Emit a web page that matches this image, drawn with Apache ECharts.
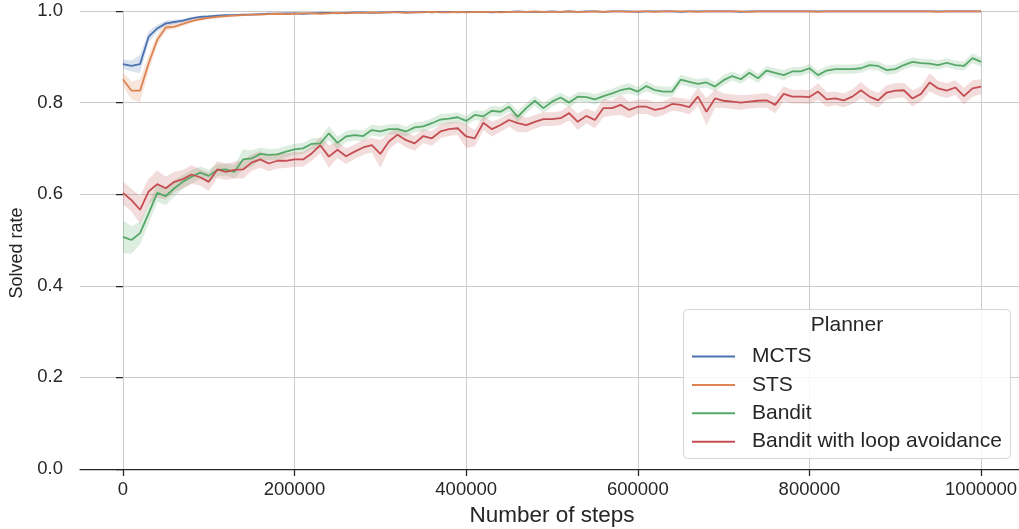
<!DOCTYPE html>
<html>
<head>
<meta charset="utf-8">
<script src="https://cdn.jsdelivr.net/npm/echarts@6/dist/echarts.min.js"></script>
<style>
  html, body { margin: 0; padding: 0; background: #fff; }
  #chart { width: 1019px; height: 529px; }
</style>
</head>
<body>
<div id="chart"></div>
<script>
// steps where each planner was evaluated
const steps = [
  0, 10000, 20000, 30000, 40000, 50000, 60000, 70000, 80000, 90000,
  100000, 110000, 120000, 130000, 140000, 150000, 160000, 170000, 180000, 190000,
  200000, 210000, 220000, 230000, 240000, 250000, 260000, 270000, 280000, 290000,
  300000, 310000, 320000, 330000, 340000, 350000, 360000, 370000, 380000, 390000,
  400000, 410000, 420000, 430000, 440000, 450000, 460000, 470000, 480000, 490000,
  500000, 510000, 520000, 530000, 540000, 550000, 560000, 570000, 580000, 590000,
  600000, 610000, 620000, 630000, 640000, 650000, 660000, 670000, 680000, 690000,
  700000, 710000, 720000, 730000, 740000, 750000, 760000, 770000, 780000, 790000,
  800000, 810000, 820000, 830000, 840000, 850000, 860000, 870000, 880000, 890000,
  900000, 910000, 920000, 930000, 940000, 950000, 960000, 970000, 980000, 990000,
  1000000
];

const planners = ['MCTS', 'STS', 'Bandit', 'Bandit with loop avoidance'];
const xTicks = [0, 200000, 400000, 600000, 800000, 1000000];

// mean solved rate
const mcts = [
  0.884, 0.880, 0.884, 0.944, 0.962, 0.973, 0.976, 0.979, 0.984, 0.987,
  0.988, 0.990, 0.991, 0.991, 0.992, 0.992, 0.993, 0.994, 0.994, 0.995,
  0.995, 0.994, 0.995, 0.996, 0.996, 0.995, 0.996, 0.997, 0.997, 0.996,
  0.997, 0.997, 0.998, 0.997, 0.997, 0.998, 0.997, 0.998, 0.998, 0.997,
  0.998, 0.998, 0.998, 0.997, 0.998, 0.998, 0.999, 0.998, 0.998, 0.998,
  0.999, 0.998, 0.999, 0.998, 0.999, 0.999, 0.998, 0.999, 0.999, 0.999,
  0.998, 0.999, 0.999, 0.999, 0.999, 0.998, 0.999, 0.999, 0.999, 0.999,
  0.999, 0.999, 0.998, 0.999, 0.999, 0.999, 0.999, 0.999, 0.999, 0.999,
  0.999, 0.999, 0.999, 0.999, 0.999, 0.999, 0.999, 0.999, 0.999, 0.999,
  0.999, 0.999, 0.999, 0.999, 0.999, 0.999, 0.999, 0.999, 0.999, 0.999,
  0.999
];
const sts = [
  0.851, 0.826, 0.826, 0.886, 0.937, 0.964, 0.966, 0.972, 0.978, 0.982,
  0.985, 0.987, 0.989, 0.990, 0.991, 0.992, 0.992, 0.993, 0.994, 0.993,
  0.994, 0.995, 0.995, 0.994, 0.995, 0.996, 0.995, 0.996, 0.996, 0.997,
  0.996, 0.997, 0.997, 0.996, 0.997, 0.997, 0.998, 0.997, 0.997, 0.998,
  0.997, 0.998, 0.998, 0.998, 0.997, 0.998, 0.998, 0.998, 0.999, 0.998,
  0.998, 0.998, 0.999, 0.998, 0.998, 0.999, 0.998, 0.999, 0.999, 0.998,
  0.999, 0.999, 0.998, 0.999, 0.999, 0.999, 0.999, 0.998, 0.999, 0.999,
  0.999, 0.999, 0.999, 0.998, 0.999, 0.999, 0.999, 0.999, 0.999, 0.999,
  0.999, 0.998, 0.999, 0.999, 0.999, 0.999, 0.999, 0.999, 0.999, 0.999,
  0.999, 0.999, 0.999, 0.999, 0.999, 0.998, 0.999, 0.999, 0.999, 0.999,
  0.999
];
const bandit = [
  0.507, 0.500, 0.515, 0.558, 0.603, 0.596, 0.613, 0.627, 0.638, 0.647,
  0.640, 0.653, 0.654, 0.649, 0.676, 0.678, 0.688, 0.686, 0.687, 0.693,
  0.698, 0.700, 0.710, 0.711, 0.733, 0.712, 0.726, 0.729, 0.727, 0.740,
  0.737, 0.742, 0.742, 0.737, 0.746, 0.748, 0.755, 0.763, 0.765, 0.768,
  0.760, 0.773, 0.770, 0.782, 0.780, 0.791, 0.769, 0.788, 0.804, 0.788,
  0.802, 0.811, 0.800, 0.813, 0.812, 0.807, 0.814, 0.820, 0.827, 0.831,
  0.824, 0.836, 0.827, 0.824, 0.824, 0.850, 0.845, 0.841, 0.844, 0.835,
  0.849, 0.858, 0.851, 0.865, 0.853, 0.870, 0.865, 0.860, 0.868, 0.868,
  0.875, 0.860, 0.870, 0.873, 0.873, 0.873, 0.875, 0.882, 0.880, 0.871,
  0.873, 0.882, 0.889, 0.886, 0.885, 0.882, 0.887, 0.882, 0.880, 0.897,
  0.889
];
const banditLoop = [
  0.603, 0.587, 0.566, 0.606, 0.622, 0.613, 0.627, 0.633, 0.643, 0.637,
  0.627, 0.654, 0.649, 0.653, 0.654, 0.669, 0.676, 0.667, 0.673, 0.673,
  0.676, 0.676, 0.689, 0.707, 0.682, 0.697, 0.683, 0.693, 0.702, 0.707,
  0.688, 0.715, 0.730, 0.718, 0.711, 0.727, 0.722, 0.737, 0.742, 0.744,
  0.726, 0.722, 0.756, 0.742, 0.751, 0.762, 0.755, 0.751, 0.758, 0.764,
  0.764, 0.766, 0.777, 0.758, 0.771, 0.762, 0.788, 0.788, 0.795, 0.784,
  0.791, 0.791, 0.784, 0.788, 0.797, 0.795, 0.790, 0.813, 0.780, 0.809,
  0.804, 0.802, 0.800, 0.802, 0.804, 0.805, 0.795, 0.819, 0.813, 0.813,
  0.812, 0.824, 0.807, 0.809, 0.805, 0.813, 0.827, 0.813, 0.805, 0.822,
  0.826, 0.827, 0.809, 0.819, 0.844, 0.831, 0.826, 0.833, 0.814, 0.831,
  0.835
];

// half width of the confidence band
const mctsCi = [
  0.010, 0.012, 0.020, 0.012, 0.008, 0.006, 0.005, 0.004, 0.003, 0.003,
  0.003, 0.002, 0.002, 0.002, 0.002, 0.002, 0.002, 0.002, 0.002, 0.002,
  0.001, 0.001, 0.001, 0.001, 0.001, 0.001, 0.001, 0.001, 0.001, 0.001,
  0.001, 0.001, 0.001, 0.001, 0.001, 0.001, 0.001, 0.001, 0.001, 0.001,
  0.001, 0.001, 0.001, 0.001, 0.001, 0.001, 0.001, 0.001, 0.001, 0.001,
  0.001, 0.001, 0.001, 0.001, 0.001, 0.001, 0.001, 0.001, 0.001, 0.001,
  0.001, 0.001, 0.001, 0.001, 0.001, 0.001, 0.001, 0.001, 0.001, 0.001,
  0.001, 0.001, 0.001, 0.001, 0.001, 0.001, 0.001, 0.001, 0.001, 0.001,
  0.001, 0.001, 0.001, 0.001, 0.001, 0.001, 0.001, 0.001, 0.001, 0.001,
  0.001, 0.001, 0.001, 0.001, 0.001, 0.001, 0.001, 0.001, 0.001, 0.001,
  0.001
];
const stsCi = [
  0.015, 0.020, 0.025, 0.018, 0.012, 0.008, 0.006, 0.005, 0.004, 0.004,
  0.003, 0.003, 0.003, 0.002, 0.002, 0.002, 0.002, 0.002, 0.002, 0.002,
  0.001, 0.001, 0.001, 0.001, 0.001, 0.001, 0.001, 0.001, 0.001, 0.001,
  0.001, 0.001, 0.001, 0.001, 0.001, 0.001, 0.001, 0.001, 0.001, 0.001,
  0.001, 0.001, 0.001, 0.001, 0.001, 0.001, 0.001, 0.001, 0.001, 0.001,
  0.001, 0.001, 0.001, 0.001, 0.001, 0.001, 0.001, 0.001, 0.001, 0.001,
  0.001, 0.001, 0.001, 0.001, 0.001, 0.001, 0.001, 0.001, 0.001, 0.001,
  0.001, 0.001, 0.001, 0.001, 0.001, 0.001, 0.001, 0.001, 0.001, 0.001,
  0.001, 0.001, 0.001, 0.001, 0.001, 0.001, 0.001, 0.001, 0.001, 0.001,
  0.001, 0.001, 0.001, 0.001, 0.001, 0.001, 0.001, 0.001, 0.001, 0.001,
  0.001
];
const banditCi = [
  0.036, 0.030, 0.025, 0.022, 0.020, 0.020, 0.018, 0.015, 0.015, 0.014,
  0.014, 0.013, 0.013, 0.015, 0.022, 0.018, 0.014, 0.012, 0.013, 0.012,
  0.012, 0.012, 0.012, 0.012, 0.016, 0.014, 0.012, 0.012, 0.012, 0.012,
  0.012, 0.011, 0.012, 0.011, 0.011, 0.011, 0.011, 0.012, 0.011, 0.011,
  0.011, 0.011, 0.011, 0.011, 0.011, 0.011, 0.013, 0.011, 0.011, 0.011,
  0.011, 0.011, 0.011, 0.010, 0.011, 0.011, 0.011, 0.010, 0.011, 0.011,
  0.010, 0.011, 0.010, 0.011, 0.011, 0.011, 0.011, 0.010, 0.011, 0.010,
  0.011, 0.010, 0.010, 0.011, 0.010, 0.010, 0.010, 0.011, 0.010, 0.010,
  0.010, 0.010, 0.010, 0.010, 0.010, 0.010, 0.010, 0.010, 0.010, 0.010,
  0.010, 0.010, 0.010, 0.010, 0.011, 0.010, 0.010, 0.010, 0.010, 0.011,
  0.010
];
const banditLoopCi = [
  0.025, 0.025, 0.030, 0.028, 0.030, 0.025, 0.022, 0.020, 0.020, 0.018,
  0.020, 0.018, 0.018, 0.018, 0.020, 0.018, 0.018, 0.017, 0.017, 0.016,
  0.016, 0.016, 0.016, 0.018, 0.025, 0.018, 0.017, 0.016, 0.016, 0.016,
  0.030, 0.018, 0.016, 0.016, 0.016, 0.015, 0.016, 0.015, 0.015, 0.015,
  0.025, 0.018, 0.016, 0.016, 0.015, 0.015, 0.020, 0.016, 0.015, 0.015,
  0.015, 0.015, 0.016, 0.018, 0.016, 0.018, 0.020, 0.016, 0.022, 0.018,
  0.016, 0.016, 0.016, 0.015, 0.015, 0.015, 0.016, 0.020, 0.030, 0.020,
  0.016, 0.016, 0.016, 0.015, 0.015, 0.016, 0.018, 0.016, 0.015, 0.015,
  0.015, 0.018, 0.016, 0.015, 0.015, 0.016, 0.018, 0.016, 0.016, 0.016,
  0.016, 0.016, 0.018, 0.016, 0.020, 0.016, 0.016, 0.016, 0.018, 0.018,
  0.016
];

const colors = ['#4c72b0', '#dd8452', '#55a868', '#c44e52'];
const bands = ['rgba(76,114,176,0.2)', 'rgba(221,132,82,0.2)', 'rgba(85,168,104,0.2)', 'rgba(196,78,82,0.2)'];
const means = [mcts, sts, bandit, banditLoop];
const cis = [mctsCi, stsCi, banditCi, banditLoopCi];

const FONT = 'Liberation Sans, Arial, sans-serif';
const TXT = '#262626';

// confidence band as one polygon (mean +/- ci), then the mean line on top
function plannerSeries(idx) {
  const m = means[idx], ci = cis[idx];
  const rows = steps.map((s, i) => [s, m[i] - ci[i], m[i] + ci[i]]);
  const line = steps.map((s, i) => [s, m[i]]);
  return [
    {
      name: planners[idx] + ' ci', type: 'custom', data: rows, clip: true, silent: true,
      encode: { x: 0, y: [1, 2] },
      renderItem: function (params, api) {
        if (params.dataIndex !== 0) return null;
        const up = rows.map(r => api.coord([r[0], r[2]]));
        const lo = rows.map(r => api.coord([r[0], r[1]])).reverse();
        return {
          type: 'polygon',
          shape: { points: up.concat(lo) },
          style: { fill: bands[idx] }
        };
      }
    },
    {
      name: planners[idx], type: 'line', data: line,
      symbol: 'none', lineStyle: { color: colors[idx], width: 1.8 },
      itemStyle: { color: colors[idx] }
    }
  ];
}

let series = [];
for (let k = 0; k < planners.length; k++) {
  series = series.concat(plannerSeries(k));
}

const chart = echarts.init(document.getElementById('chart'));
chart.setOption({
  animation: false,
  backgroundColor: '#fff',
  grid: { left: 80, top: 11, right: -5, bottom: 60, outerBoundsMode: 'none' },
  xAxis: {
    type: 'value',
    min: -50000,
    max: 1050000,
    name: 'Number of steps',
    nameLocation: 'middle',
    nameGap: 35,
    nameTextStyle: { fontFamily: FONT, fontSize: 22.5, color: TXT },
    axisLine: { show: true, onZero: false, lineStyle: { color: TXT, width: 1.25 } },
    axisTick: { show: true, length: 7, customValues: xTicks, lineStyle: { color: TXT, width: 1.25 } },
    axisLabel: {
      customValues: xTicks, margin: 11, fontFamily: FONT, fontSize: 18.5, color: TXT,
      formatter: v => String(v)
    },
    splitLine: { show: true, lineStyle: { color: '#cccccc', width: 1 } }
  },
  yAxis: {
    type: 'value',
    min: 0,
    max: 1,
    interval: 0.2,
    name: 'Solved rate',
    nameLocation: 'middle',
    nameGap: 54,
    nameTextStyle: { fontFamily: FONT, fontSize: 18, color: TXT, padding: [0, 26, 0, 0] },
    axisLine: { show: false },
    axisTick: { show: true, length: 7, lineStyle: { color: TXT, width: 1.25 } },
    axisLabel: {
      margin: 17, fontFamily: FONT, fontSize: 18.5, color: TXT,
      formatter: v => v.toFixed(1)
    },
    splitLine: { show: true, lineStyle: { color: '#cccccc', width: 1 } }
  },
  legend: {
    data: planners,
    orient: 'vertical',
    left: 692,
    top: 346,
    padding: 0,
    icon: 'path://M0,9 L43,9 L43,11 L0,11 Z',
    itemWidth: 43,
    itemHeight: 20,
    itemGap: 7.4,
    selectedMode: false,
    z: 5,
    textStyle: { fontFamily: FONT, fontSize: 21, lineHeight: 20, color: TXT, padding: [0, 0, 0, 12] }
  },
  graphic: [
    {
      type: 'rect', z: 4, silent: true,
      shape: { x: 683.5, y: 309.5, width: 327, height: 149, r: 4 },
      style: { fill: 'rgba(255,255,255,0.8)', stroke: '#d6d6d6', lineWidth: 1 }
    },
    {
      type: 'text', z: 5, silent: true,
      style: {
        text: 'Planner', x: 847, y: 325, align: 'center', verticalAlign: 'middle',
        font: '21px ' + FONT, fill: TXT
      }
    }
  ],
  series: series
});
</script>
</body>
</html>
